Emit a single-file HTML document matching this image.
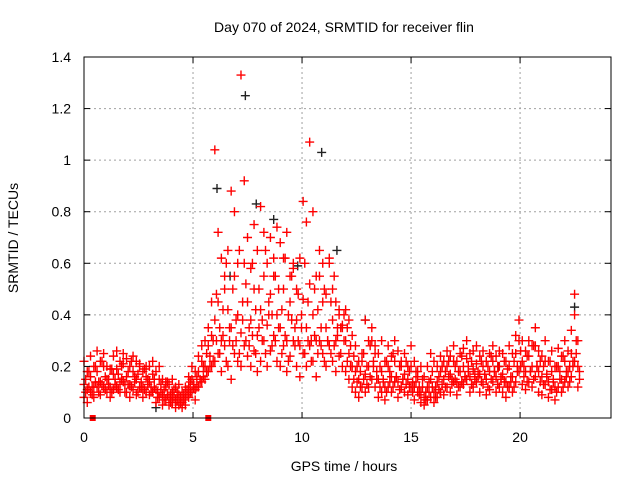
<!DOCTYPE html>
<html><head><meta charset="utf-8"><style>
html,body{margin:0;padding:0;background:#fff;width:640px;height:480px;overflow:hidden}
text{font-family:"Liberation Sans",sans-serif;font-size:14px;fill:#000}
</style></head><body>
<svg id="chart" width="640" height="480">
<text x="344" y="32" text-anchor="middle">Day 070 of 2024, SRMTID for receiver flin</text>
<text x="344" y="471" text-anchor="middle">GPS time / hours</text>
<text transform="translate(18,238) rotate(-90)" text-anchor="middle">SRMTID / TECUs</text>
<g id="grid"></g><g id="marks"></g><g id="axes"></g>
</svg>
<script>
const times=[0,.15,.3,.45,.6,.75,.9,1.05,1.2,1.35,1.5,1.65,1.8,1.95,2.1,2.25,2.4,2.55,2.7,2.85,3,3.15,3.3,3.45,3.6,3.75,3.9,4.05,4.2,4.35,4.5,4.65,4.8,4.95,5.1,5.25,5.4,5.55,5.7,5.85,6,6.15,6.3,6.45,6.6,6.75,6.9,7.05,7.2,7.35,7.5,7.65,7.8,7.95,8.1,8.25,8.4,8.55,8.7,8.85,9,9.15,9.3,9.45,9.6,9.75,9.9,10.05,10.2,10.35,10.5,10.65,10.8,10.95,11.1,11.25,11.4,11.55,11.7,11.85,12,12.15,12.3,12.45,12.6,12.75,12.9,13.05,13.2,13.35,13.5,13.65,13.8,13.95,14.1,14.25,14.4,14.55,14.7,14.85,15,15.15,15.3,15.45,15.6,15.75,15.9,16.05,16.2,16.35,16.5,16.65,16.8,16.95,17.1,17.25,17.4,17.55,17.7,17.85,18,18.15,18.3,18.45,18.6,18.75,18.9,19.05,19.2,19.35,19.5,19.65,19.8,19.95,20.1,20.25,20.4,20.55,20.7,20.85,21,21.15,21.3,21.45,21.6,21.75,21.9,22.05,22.2,22.35,22.5,22.65];
const valsMid=[.13,.11,.16,.12,.18,.14,.2,.15,.12,.17,.19,.14,.21,.16,.13,.18,.15,.2,.12,.16,.14,.17,.11,.15,.09,.12,.08,.1,.07,.09,.06,.08,.12,.15,.11,.18,.22,.2,.28,.32,.38,.45,.3,.5,.42,.35,.55,.4,.33,.6,.45,.38,.5,.32,.42,.55,.36,.48,.62,.4,.35,.5,.3,.45,.58,.38,.28,.46,.35,.52,.4,.3,.55,.45,.35,.6,.38,.3,.42,.36,.3,.25,.2,.18,.15,.22,.17,.2,.3,.25,.15,.18,.12,.2,.16,.22,.14,.2,.17,.15,.2,.12,.16,.1,.08,.12,.15,.1,.14,.18,.15,.2,.17,.22,.14,.18,.2,.23,.16,.19,.21,.17,.2,.15,.18,.22,.16,.2,.17,.14,.2,.16,.25,.3,.22,.18,.24,.2,.28,.18,.16,.22,.14,.18,.12,.2,.15,.22,.18,.25,.4,.2];
const valsHigh=[.22,.18,.24,.2,.26,.22,.25,.2,.19,.24,.26,.22,.25,.23,.2,.24,.22,.21,.18,.2,.2,.22,.18,.2,.15,.14,.13,.15,.12,.13,.1,.12,.16,.2,.18,.24,.28,.3,.35,.45,1.04,.72,.62,.55,.65,.88,.8,.6,1.33,.92,.7,.58,.75,.65,.82,.72,.6,.7,.55,.74,.68,.62,.72,.55,.6,.5,.62,.84,.76,1.07,.8,.55,.65,.6,.48,.62,.5,.45,.4,.35,.42,.38,.32,.28,.22,.25,.38,.3,.35,.28,.25,.3,.22,.28,.24,.3,.26,.22,.25,.2,.28,.22,.18,.2,.16,.2,.25,.22,.2,.24,.22,.26,.24,.28,.22,.25,.27,.3,.25,.26,.28,.24,.26,.22,.25,.28,.24,.26,.25,.22,.28,.25,.32,.38,.3,.26,.3,.28,.35,.26,.24,.3,.22,.26,.2,.27,.24,.3,.26,.34,.48,.3];
const valsLow=[.08,.06,.1,.08,.12,.09,.12,.1,.08,.11,.12,.1,.14,.1,.08,.11,.09,.12,.08,.1,.09,.1,.06,.08,.05,.07,.05,.06,.04,.05,.04,.05,.08,.1,.07,.12,.14,.15,.18,.2,.22,.25,.18,.28,.2,.15,.25,.22,.2,.28,.24,.2,.26,.18,.22,.3,.2,.26,.32,.22,.2,.28,.18,.24,.3,.2,.16,.25,.2,.28,.22,.16,.3,.25,.2,.28,.22,.18,.24,.2,.18,.15,.12,.1,.08,.12,.1,.12,.15,.12,.08,.1,.07,.12,.1,.14,.08,.12,.1,.09,.12,.07,.1,.06,.05,.07,.08,.06,.08,.1,.09,.12,.1,.14,.09,.12,.13,.15,.1,.12,.14,.1,.13,.09,.11,.14,.1,.12,.1,.08,.12,.1,.14,.18,.13,.11,.14,.12,.16,.1,.09,.13,.08,.11,.07,.12,.1,.14,.12,.16,.22,.12];
const times2=[.075,.225,.375,.525,.675,.825,.975,1.125,1.275,1.425,1.575,1.725,1.875,2.025,2.175,2.325,2.475,2.625,2.775,2.925,3.075,3.225,3.375,3.525,3.675,3.825,3.975,4.125,4.275,4.425,4.575,4.725,4.875,5.025,5.175,5.325,5.475,5.625,5.775,5.925,6.075,6.225,6.375,6.525,6.675,6.825,6.975,7.125,7.275,7.425,7.575,7.725,7.875,8.025,8.175,8.325,8.475,8.625,8.775,8.925,9.075,9.225,9.375,9.525,9.675,9.825,9.975,10.125,10.275,10.425,10.575,10.725,10.875,11.025,11.175,11.325,11.475,11.625,11.775,11.925,12.075,12.225,12.375,12.525,12.675,12.825,12.975,13.125,13.275,13.425,13.575,13.725,13.875,14.025,14.175,14.325,14.475,14.625,14.775,14.925,15.075,15.225,15.375,15.525,15.675,15.825,15.975,16.125,16.275,16.425,16.575,16.725,16.875,17.025,17.175,17.325,17.475,17.625,17.775,17.925,18.075,18.225,18.375,18.525,18.675,18.825,18.975,19.125,19.275,19.425,19.575,19.725,19.875,20.025,20.175,20.325,20.475,20.625,20.775,20.925,21.075,21.225,21.375,21.525,21.675,21.825,21.975,22.125,22.275,22.425,22.575,22.725];
const vals2a=[.15,.18,.12,.2,.14,.22,.16,.13,.19,.15,.17,.2,.13,.18,.22,.14,.17,.12,.19,.15,.12,.15,.1,.13,.11,.14,.09,.11,.1,.08,.09,.11,.14,.13,.16,.14,.2,.25,.24,.3,.48,.35,.42,.6,.3,.5,.38,.65,.45,.52,.35,.6,.42,.5,.38,.65,.45,.4,.55,.5,.42,.62,.4,.55,.35,.48,.4,.6,.45,.3,.5,.42,.35,.5,.3,.45,.55,.32,.35,.4,.35,.28,.24,.2,.18,.25,.2,.28,.22,.18,.2,.14,.22,.18,.25,.16,.2,.15,.22,.18,.14,.18,.12,.15,.1,.14,.18,.12,.16,.2,.18,.22,.15,.2,.18,.24,.16,.2,.22,.17,.18,.22,.17,.2,.24,.18,.2,.15,.22,.19,.16,.22,.2,.26,.2,.24,.18,.28,.2,.22,.2,.16,.22,.15,.2,.18,.24,.16,.2,.22,.3,.18];
const vals2b=[.1,.12,.09,.14,.1,.13,.11,.15,.1,.13,.11,.15,.1,.13,.12,.16,.1,.14,.11,.13,.1,.12,.08,.1,.07,.09,.06,.08,.07,.06,.07,.09,.1,.12,.12,.15,.16,.18,.2,.22,.3,.25,.32,.22,.35,.28,.3,.25,.38,.3,.28,.32,.25,.35,.3,.25,.4,.28,.3,.35,.25,.32,.22,.38,.28,.3,.35,.25,.3,.22,.32,.25,.28,.22,.3,.25,.28,.35,.25,.3,.22,.2,.15,.14,.12,.15,.13,.16,.2,.15,.12,.15,.1,.14,.12,.16,.11,.15,.13,.12,.1,.14,.09,.12,.07,.1,.12,.08,.11,.13,.12,.16,.13,.15,.12,.14,.16,.18,.13,.15,.16,.14,.17,.12,.15,.18,.13,.16,.14,.12,.14,.12,.18,.2,.16,.14,.18,.15,.2,.14,.13,.17,.11,.14,.1,.15,.12,.18,.14,.2,.25,.15];
const blackTimes=[6.1,7.4,7.9,8.7,10.9,11.6,12.9,22.5,3.3,19.0,9.8,6.7];
const blackVals=[0.89,1.25,0.83,0.77,1.03,0.65,0.38,0.43,0.04,0.2,0.59,0.55];
const squareTimes=[0.4,5.7];
const xTicks=[0,5,10,15,20];
const yTicks=[0,0.2,0.4,0.6,0.8,1,1.2,1.4];
const yTickLabels=["0","0.2","0.4","0.6","0.8","1","1.2","1.4"];

const L=84,R=611,T=57,B=418,XMAX=24.17,YMAX=1.4;
const xs=v=>L+v/XMAX*(R-L), ys=v=>B-v/YMAX*(B-T);
const NS="http://www.w3.org/2000/svg";
function mk(tag,attrs,parent){const e=document.createElementNS(NS,tag);for(const k in attrs)e.setAttribute(k,attrs[k]);parent.appendChild(e);return e;}
const grid=document.getElementById('grid'),marks=document.getElementById('marks'),axes=document.getElementById('axes');
xTicks.forEach(t=>{const x=xs(t);
 if(t>0){const g=mk('line',{x1:x,x2:x,y1:T,y2:B,stroke:'#a0a0a0','stroke-dasharray':'2,3'},grid);}
 mk('line',{x1:x,x2:x,y1:B,y2:B-6,stroke:'#000'},axes);mk('line',{x1:x,x2:x,y1:T,y2:T+6,stroke:'#000'},axes);
 const l=mk('text',{x:x,y:B+24,'text-anchor':'middle'},axes);l.textContent=t;
 });
yTicks.forEach((t,i)=>{const y=ys(t);
 if(t>0&&t<YMAX){const g=mk('line',{x1:L,x2:R,y1:y,y2:y,stroke:'#a0a0a0','stroke-dasharray':'2,3'},grid);}
 mk('line',{x1:L,x2:L+6,y1:y,y2:y,stroke:'#000'},axes);mk('line',{x1:R,x2:R-6,y1:y,y2:y,stroke:'#000'},axes);
 const l=mk('text',{x:L-13,y:y+5,'text-anchor':'end'},axes);l.textContent=yTickLabels[i];
 });
const frame=mk('rect',{x:L,y:T,width:R-L,height:B-T,fill:'none',stroke:'#000'},axes);

function plus(t,v,color,name){const x=xs(t),y=ys(v);
 const p=mk('path',{d:`M${x-4.5} ${y}H${x+4.5}M${x} ${y-4.5}V${y+4.5}`,stroke:color,'stroke-width':1.4,fill:'none'},marks);
 
 }
blackTimes.forEach((t,i)=>plus(t,blackVals[i],'#222','black-point'));
times.forEach((t,i)=>{plus(t,valsLow[i],'#f00','point-low');plus(t,valsMid[i],'#f00','point-mid');plus(t,valsHigh[i],'#f00','point-high');});
times2.forEach((t,i)=>{plus(t,vals2a[i],'#f00','point-mid2');plus(t,vals2b[i],'#f00','point-low2');});
squareTimes.forEach(t=>{const s=mk('rect',{x:xs(t)-3,y:B-3,width:6,height:6,fill:'#f00'},marks);
 
 });
</script>
</body></html>
